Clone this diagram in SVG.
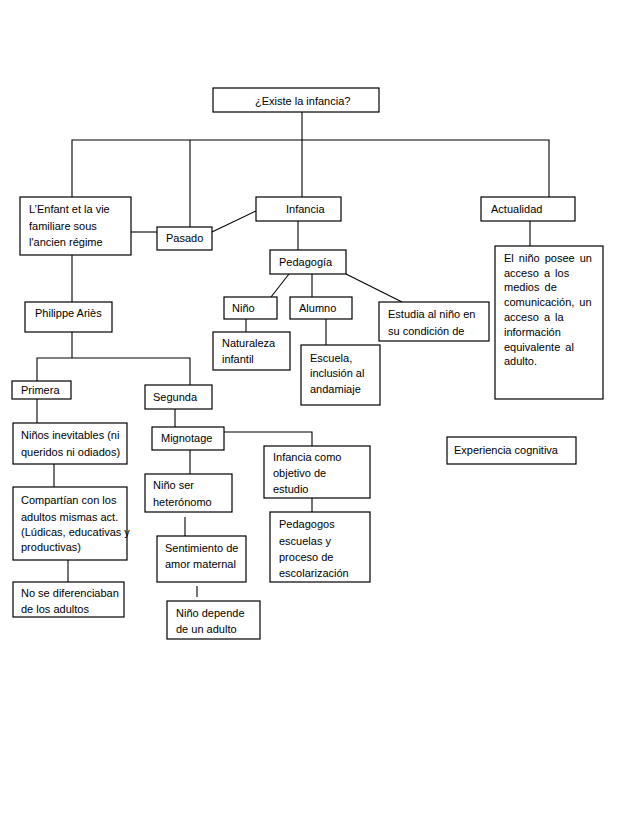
<svg xmlns="http://www.w3.org/2000/svg" width="638" height="826" viewBox="0 0 638 826">
<style>
rect.b{fill:#fff;stroke:#000;stroke-width:1.2}
.c line,.c polyline{stroke:#000;stroke-width:1.1;fill:none}
text{font-family:"Liberation Sans",Arial,sans-serif;font-size:11px;fill:#000}
.j{word-spacing:2px}
</style>
<rect width="638" height="826" fill="#fff"/>
<g class="c" id="connectors">
<line x1="302" y1="112" x2="302" y2="197"/>
<polyline points="72,197 72,140 549,140 549,197"/>
<line x1="190" y1="140" x2="190" y2="227"/>
<line x1="131" y1="232" x2="157" y2="232"/>
<line x1="212" y1="232" x2="256" y2="211"/>
<line x1="530" y1="221" x2="530" y2="246"/>
<line x1="298" y1="221" x2="298" y2="250"/>
<line x1="289" y1="274" x2="271" y2="297"/>
<line x1="312" y1="274" x2="312" y2="297"/>
<line x1="346" y1="274" x2="402" y2="302"/>
<line x1="246" y1="319" x2="246" y2="332"/>
<line x1="326" y1="319" x2="326" y2="345"/>
<line x1="72" y1="255" x2="72" y2="302"/>
<line x1="72" y1="332" x2="72" y2="358"/>
<polyline points="37,381 37,358 190,358 190,385"/>
<line x1="37" y1="399" x2="37" y2="423"/>
<line x1="175" y1="409" x2="175" y2="427"/>
<polyline points="224,432 312,432 312,446"/>
<line x1="312" y1="498" x2="312" y2="512"/>
<line x1="190" y1="450" x2="190" y2="474"/>
<line x1="185" y1="517" x2="185" y2="536"/>
<line x1="197" y1="586" x2="197" y2="597"/>
<line x1="54" y1="464" x2="54" y2="487"/>
<line x1="68" y1="560" x2="68" y2="582"/>
</g>
<g id="n-existe"><rect class="b" x="213" y="88" width="166" height="24"/><text x="255" y="104.5">¿Existe la infancia?</text></g>
<g id="n-lenfant"><rect class="b" x="20" y="197" width="111" height="58"/><text x="29" y="213">L’Enfant et  la vie</text><text x="29" y="229.5">familiare  sous</text><text x="29" y="246">l'ancien  régime</text></g>
<g id="n-pasado"><rect class="b" x="157" y="227" width="55" height="23"/><text x="166" y="242">Pasado</text></g>
<g id="n-infancia"><rect class="b" x="256" y="197" width="85" height="24"/><text x="286" y="213">Infancia</text></g>
<g id="n-actualidad"><rect class="b" x="481" y="197" width="94" height="24"/><text x="491" y="213">Actualidad</text></g>
<g id="n-elnino"><rect class="b" x="495" y="246" width="108" height="153"/>
<text class="j" x="504" y="262">El niño posee un</text>
<text class="j" x="504" y="277">acceso a los</text>
<text class="j" x="504" y="291">medios de</text>
<text class="j" x="504" y="306">comunicación, un</text>
<text class="j" x="504" y="321">acceso a la</text>
<text x="504" y="335.5">información</text>
<text class="j" x="504" y="350.5">equivalente al</text>
<text x="504" y="364.5">adulto.</text></g>
<g id="n-pedagogia"><rect class="b" x="270" y="250" width="76" height="24"/><text x="279" y="266">Pedagogía</text></g>
<g id="n-nino"><rect class="b" x="224" y="297" width="53" height="22"/><text x="232" y="312">Niño</text></g>
<g id="n-alumno"><rect class="b" x="290" y="297" width="62" height="22"/><text x="299" y="312">Alumno</text></g>
<g id="n-estudia"><rect class="b" x="379" y="302" width="110" height="39"/><text x="388" y="318">Estudia al niño en</text><text x="388" y="334.5">su condición de</text></g>
<g id="n-naturaleza"><rect class="b" x="213" y="332" width="77" height="38"/><text x="222" y="347">Naturaleza</text><text x="222" y="363">infantil</text></g>
<g id="n-escuela"><rect class="b" x="301" y="345" width="79" height="60"/><text x="310" y="361.5">Escuela,</text><text x="310" y="377">inclusión al</text><text x="310" y="393">andamiaje</text></g>
<g id="n-aries"><rect class="b" x="25" y="302" width="87" height="30"/><text x="35" y="317">Philippe Ariès</text></g>
<g id="n-primera"><rect class="b" x="12" y="381" width="59" height="18"/><text x="21" y="394">Primera</text></g>
<g id="n-segunda"><rect class="b" x="145" y="385" width="67" height="24"/><text x="153" y="401">Segunda</text></g>
<g id="n-ninos-inev"><rect class="b" x="13" y="423" width="114" height="41"/><text x="21" y="439">Niños inevitables (ni</text><text x="21" y="455.5">queridos ni odiados)</text></g>
<g id="n-mignotage"><rect class="b" x="152" y="427" width="72" height="23"/><text x="161" y="442">Mignotage</text></g>
<g id="n-infancia-como"><rect class="b" x="264" y="446" width="106" height="52"/><text x="273" y="461">Infancia como</text><text x="273" y="477">objetivo de</text><text x="273" y="493">estudio</text></g>
<g id="n-pedagogos"><rect class="b" x="270" y="512" width="100" height="70"/><text x="279" y="528">Pedagogos</text><text x="279" y="544.5">escuelas y</text><text x="279" y="560.5">proceso de</text><text x="279" y="576.5">escolarización</text></g>
<g id="n-nino-ser"><rect class="b" x="145" y="474" width="87" height="38"/><text x="153" y="489">Niño ser</text><text x="153" y="505.5">heterónomo</text></g>
<g id="n-sentimiento"><rect class="b" x="157" y="536" width="89" height="46"/><text x="165" y="551.5">Sentimiento de</text><text x="165" y="568">amor maternal</text></g>
<g id="n-nino-depende"><rect class="b" x="167" y="601" width="93" height="38"/><text x="176" y="617">Niño depende</text><text x="176" y="633">de un adulto</text></g>
<g id="n-compartian"><rect class="b" x="13" y="487" width="114" height="73"/><text x="21" y="504">Compartían con los</text><text x="21" y="520.5">adultos mismas act.</text><text x="21" y="535.5" font-size="10">(Lúdicas, educativas y</text><text x="21" y="551">productivas)</text></g>
<g id="n-nose"><rect class="b" x="13" y="582" width="111" height="35"/><text x="21" y="596.5">No se diferenciaban</text><text x="21" y="613">de los adultos</text></g>
<g id="n-experiencia"><rect class="b" x="447" y="437" width="129" height="27"/><text x="454" y="454">Experiencia cognitiva</text></g>
</svg>
